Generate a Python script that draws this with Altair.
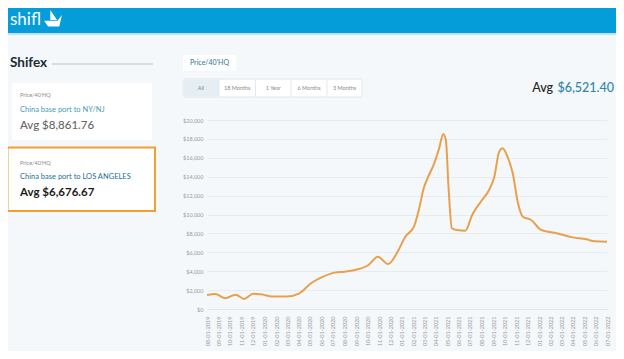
import altair as alt
import pandas as pd

# ---- data ----
dates = ["2019-08-01", "2019-08-23", "2019-09-19", "2019-10-16", "2019-11-08", "2019-12-02",
         "2019-12-22", "2020-01-28", "2020-02-28", "2020-04-03", "2020-05-04", "2020-06-05",
         "2020-07-06", "2020-08-02", "2020-08-29", "2020-10-04", "2020-10-29", "2020-11-25",
         "2020-12-23", "2021-01-10", "2021-02-02", "2021-02-15", "2021-02-28", "2021-03-12",
         "2021-03-28", "2021-04-10", "2021-04-21", "2021-04-28", "2021-05-05", "2021-05-14",
         "2021-05-27", "2021-06-19", "2021-07-07", "2021-07-30", "2021-08-21", "2021-09-04",
         "2021-09-17", "2021-09-26", "2021-10-09", "2021-10-23", "2021-11-06", "2021-11-19",
         "2021-12-11", "2022-01-07", "2022-02-17", "2022-04-01", "2022-05-07", "2022-05-29",
         "2022-07-01"]
prices = [1480, 1590, 1130, 1520, 1060, 1620,
          1550, 1310, 1310, 1660, 2720, 3420,
          3850, 3950, 4130, 4660, 5540, 4760,
          6240, 7650, 8710, 10480, 12770, 14000,
          15420, 17000, 18520, 17880, 12940, 8540,
          8360, 8290, 9950, 11350, 12590, 14000,
          16650, 17000, 16120, 14360, 11190, 9770,
          9420, 8360, 8010, 7580, 7370, 7160,
          7120]
y_ticks = [0, 2000, 4000, 6000, 8000, 10000, 12000, 14000, 16000, 18000, 20000]
tick_months = [(2019, m) for m in range(8, 13)] + [(2020, m) for m in range(1, 13)] + \
              [(2021, m) for m in range(1, 13)] + [(2022, m) for m in range(1, 8)]
buttons = ["All", "18 Months", "1 Year", "6 Months", "3 Months"]
cards = [("Price/40'HQ", "China base port to NY/NJ", "Avg $8,861.76"),
         ("Price/40'HQ", "China base port to LOS ANGELES", "Avg $6,676.67")]

df = pd.DataFrame({"date": dates, "price": prices})
one = pd.DataFrame({"a": [0]})

BG = "#f4f8fb"
FONT = "Lato"
PW, PH = 400, 189
OX, OY = 207, 120  # page position of plot origin


def txt(s, x, y, size, color, weight="normal", align="left"):
    return alt.Chart(one).mark_text(
        text=s, align=align, baseline="middle", fontSize=size, color=color,
        fontWeight=weight, font=FONT
    ).encode(x=alt.value(x - OX), y=alt.value(y - OY))


def box(x1, y1, x2, y2, fill, stroke=None, sw=0, r=0):
    kw = dict(fill=fill, cornerRadius=r)
    if stroke:
        kw.update(stroke=stroke, strokeWidth=sw)
    return alt.Chart(one).mark_rect(**kw).encode(
        x=alt.value(x1 - OX), x2=alt.value(x2 - OX),
        y=alt.value(y1 - OY), y2=alt.value(y2 - OY))


layers = []
# header
layers.append(box(8, 8, 616, 33, "#049dd9"))
layers.append(box(8, 33, 616, 35, "#bfe3f4"))
layers.append(txt("shifl", 10, 19.5, 17, "white", "normal"))
boat = "M -0.3 -1 L -0.3 0.1 L 0.45 0.1 Z M -1 0.2 L 0.5 0.2 L 1 -0.45 L 0.7 0.85 L -0.55 0.85 Z"
layers.append(alt.Chart(one).mark_point(shape=boat, filled=True, color="white", opacity=1, size=320)
              .encode(x=alt.value(53 - OX), y=alt.value(19 - OY)))

# left panel
layers.append(txt("Shifex", 10, 63, 13.5, "#1f2a30", "bold"))
layers.append(alt.Chart(one).mark_rule(color="#c9d8e2", strokeWidth=1.5).encode(
    x=alt.value(52 - OX), x2=alt.value(153 - OX), y=alt.value(64 - OY)))
layers.append(box(12, 83, 152, 140, "white"))
layers.append(box(7.5, 147.5, 155, 211, "white", "#f0a030", 2))
layers.append(txt(cards[0][0], 20, 95, 5.5, "#8a8a8a"))
layers.append(txt(cards[0][1], 20, 110, 7.5, "#4a9ab8"))
layers.append(txt(cards[0][2], 20, 125.5, 11.5, "#666666", 500))
layers.append(txt(cards[1][0], 20, 162.5, 5.5, "#8a8a8a"))
layers.append(txt(cards[1][1], 20, 177, 7.5, "#236f93"))
layers.append(txt(cards[1][2], 20, 193, 11.5, "#1b1b1b", "bold"))

# tab + buttons
layers.append(box(183, 55, 236, 71, "white"))
layers.append(txt("Price/40'HQ", 209.5, 63, 7, "#3d7f9c", 500, "center"))
edges = [183, 219, 255.5, 291, 327, 362]
layers.append(box(183, 79, 362, 97, "white", "#dfe6ea", 1, 2))
layers.append(box(183.5, 79.5, 219, 96.5, "#e6eef3"))
for i, b in enumerate(buttons):
    if i > 0:
        layers.append(alt.Chart(one).mark_rule(color="#e3e9ed", strokeWidth=1).encode(
            x=alt.value(edges[i] - OX), y=alt.value(79 - OY), y2=alt.value(97 - OY)))
    layers.append(txt(b, (edges[i] + edges[i + 1]) / 2, 88, 5.5,
                      "#6d8ea3" if i == 0 else "#8a8a8a", "normal", "center"))

# average
layers.append(txt("$6,521.40", 614, 88, 12.5, "#2e86ab", 500, "right"))
layers.append(txt("Avg", 553, 88, 12.5, "#222222", 500, "right"))

# main line chart
xvals = [alt.DateTime(year=y, month=m, date=1, utc=True) for y, m in tick_months]
line = alt.Chart(df).mark_line(color="#e9a04c", strokeWidth=2, interpolate="monotone").encode(
    x=alt.X("date:T", title=None,
            scale=alt.Scale(type="utc", domain=[alt.DateTime(year=2019, month=8, date=1, utc=True),
                                                alt.DateTime(year=2022, month=7, date=1, utc=True)]),
            axis=alt.Axis(values=xvals, format="%m-%d-%Y", labelAngle=270, labelFontSize=5.5,
                          labelColor="#9a9a9a", labelFont=FONT, labelPadding=7, ticks=False,
                          grid=False, domainColor="#dfe6ea", labelOverlap=False)),
    y=alt.Y("price:Q", title=None, scale=alt.Scale(domain=[0, 20000], nice=False),
            axis=alt.Axis(values=y_ticks, format="$,.0f", labelFontSize=5.5, labelColor="#9a9a9a",
                          labelFont=FONT, labelPadding=4, ticks=False, domain=False,
                          gridColor="#e6ecf0", gridWidth=1)),
)
layers.append(line)

chart = alt.layer(*layers).properties(
    width=PW, height=PH, background=BG,
    padding={"left": 199, "top": 112, "right": 9, "bottom": 42},
    autosize=alt.AutoSizeParams(type="none"),
).configure_view(stroke=None)

chart.save("out.html", embed_options={"renderer": "svg", "actions": False})
